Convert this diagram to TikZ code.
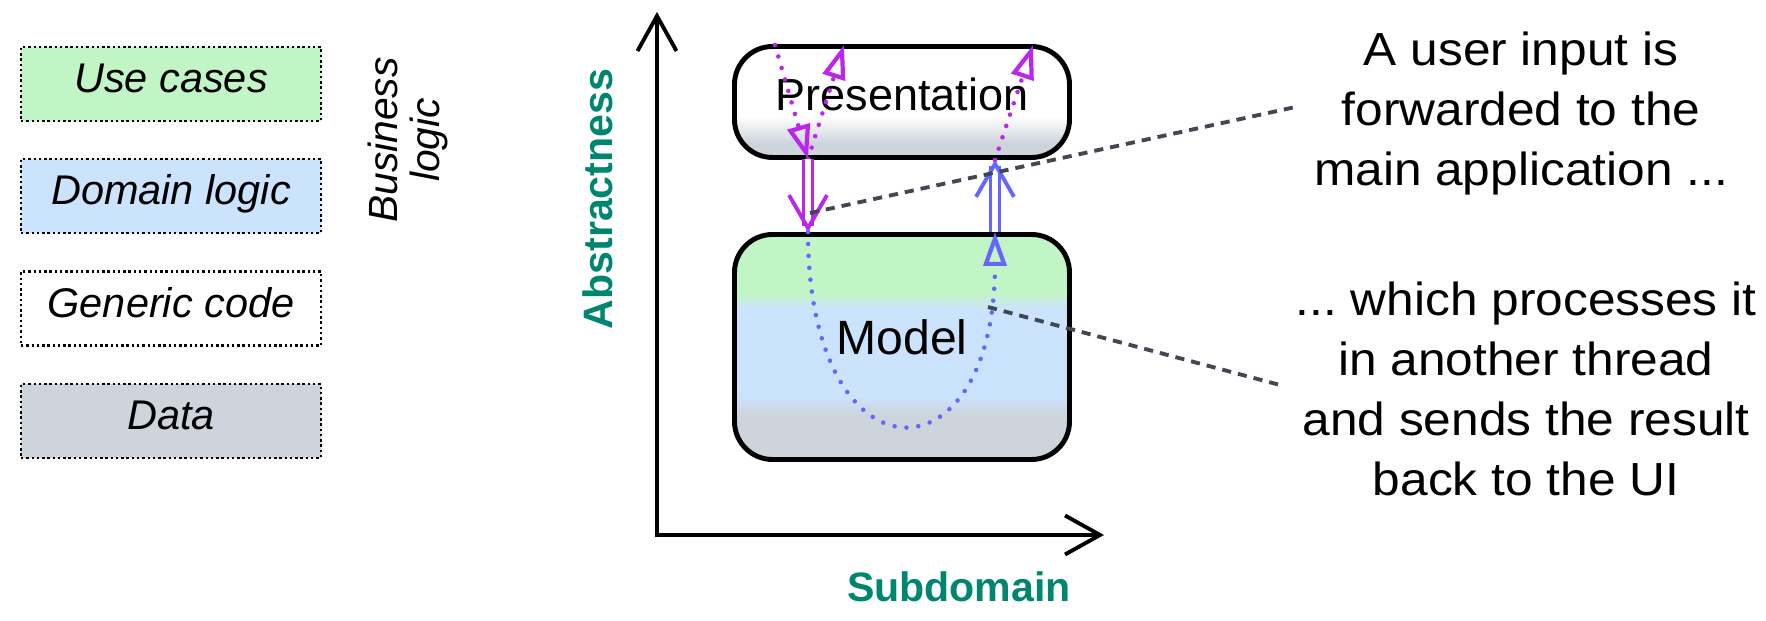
\documentclass[tikz,border=0pt]{standalone}
\usepackage{fontspec}
\setmainfont{Liberation Sans}
\newfontfamily\notefont[FakeStretch=1.07]{Liberation Sans}
\usetikzlibrary{arrows.meta}

\definecolor{casecol}{RGB}{194,245,197}
\definecolor{logiccol}{RGB}{204,227,253}
\definecolor{datacol}{RGB}{205,212,220}
\definecolor{axiscol}{RGB}{0,133,111}
\definecolor{inputcol}{RGB}{187,38,238}
\definecolor{threadcol}{RGB}{102,102,255}
\definecolor{notecol}{RGB}{64,72,82}

\pgfdeclareverticalshading{presfill}{100bp}{color(0bp)=(datacol); color(31.5bp)=(datacol); color(43.5bp)=(white); color(100bp)=(white)}
\pgfdeclareverticalshading{modelfill}{100bp}{color(0bp)=(datacol); color(35bp)=(datacol); color(39bp)=(logiccol); color(58.5bp)=(logiccol); color(62bp)=(casecol); color(100bp)=(casecol)}

\tikzset{
	legendbox/.style={draw, line width=0.7pt, dash pattern=on 0.7pt off 0.8pt, minimum width=3.0cm, minimum height=0.74cm, inner sep=0pt, text height=0.3cm, text depth=0.12cm, font=\fontsize{11.8}{14}\selectfont\itshape},
	layerbox/.style={draw, line width=1.4pt, rounded corners=0.38cm, minimum width=3.35cm, inner sep=0pt, shade},
	axislabel/.style={text=axiscol, font=\fontsize{11.7}{13}\selectfont\bfseries},
	axisline/.style={line width=1.1pt, {Straight Barb[length=0.35cm,width=0.39cm]}-{Straight Barb[length=0.35cm,width=0.39cm]}},
	flow/.style={line width=1.3pt, line cap=round, dash pattern=on 0pt off 3.4pt, -{Triangle[open,length=0.34cm,width=0.23cm,line width=1.2pt]}},
	hop/.style={double, double distance=1.7pt, line width=0.85pt, -{Straight Barb[length=0.33cm,width=0.38cm,line width=1.1pt]}},
	callout/.style={notecol, line width=1.1pt, dash pattern=on 2.6pt off 2pt},
	note/.style={align=center, inner sep=0pt, font=\notefont\fontsize{13.2}{17.07}\selectfont\frenchspacing}
}

\begin{document}
\begin{tikzpicture}
	\useasboundingbox (0,0) rectangle (17.66,6.21);
	% Legend:
	\node[legendbox, fill=casecol] (cases) at (1.71,5.37) {Use cases};
	\node[legendbox, fill=logiccol] (logic) at (1.71,4.25) {Domain logic};
	\node[legendbox] (generic) at (1.71,3.125) {Generic code};
	\node[legendbox, fill=datacol] (data) at (1.71,2.00) {Data};
	\node[rotate=90, align=center, font=\fontsize{11.6}{12}\selectfont\itshape] (business) at (4.08,4.81) {Business\\logic};
	% Axes:
	\coordinate (orig) at (6.57,0.86);
	\coordinate (yEnd) at (6.57,6.09);
	\coordinate (xEnd) at (11.04,0.86);
	\draw[axisline] (yEnd) -- (orig) -- (xEnd);
	\node[axislabel, rotate=90] (abstr) at (5.98,4.22) {Abstractness};
	\node[axislabel] (subdom) at (9.59,0.34) {Subdomain};
	% Layers:
	\node[layerbox, minimum height=1.11cm, shading=presfill, text depth=0.16cm, font=\fontsize{12.8}{15}\selectfont] (pres) at (9.02,5.19) {Presentation};
	\node[layerbox, minimum height=2.25cm, shading=modelfill, text depth=0.2cm, font=\fontsize{13.7}{16}\selectfont] (model) at (9.02,2.74) {Model};
	% Flow points:
	\coordinate (uiIn) at (7.75,5.76);
	\coordinate (uiDown) at (8.08,4.62);
	\coordinate (uiBack) at (8.44,5.76);
	\coordinate (mIn) at (8.08,3.89);
	\coordinate (mOut) at (9.95,3.89);
	\coordinate (uiUp) at (9.95,4.61);
	\coordinate (uiOut) at (10.33,5.76);
	\draw[flow, inputcol] (uiIn) -- (uiDown);
	\draw[flow, inputcol] (uiDown) -- (uiBack);
	\draw[hop, inputcol] (uiDown) -- (mIn);
	\draw[flow, threadcol] (mIn) .. controls (8.08,1.34) and (9.95,1.34) .. (mOut);
	\draw[hop, threadcol] (mOut) -- (uiUp);
	\draw[flow, inputcol] (uiUp) -- (uiOut);
	% Notes:
	\node[note] (noteA) at (15.21,5.07) {A user input is\\forwarded to the\\main application ...};
	\node[note] (noteB) at (15.26,2.32) {... which processes it\\in another thread\\and sends the result\\back to the UI};
	\coordinate (cIn) at (8.10,4.08);
	\coordinate (cOut) at (9.88,3.14);
	\draw[callout, shorten >=0.2cm] (cIn) -- (noteA.177);
	\draw[callout, shorten >=0.155cm] (cOut) -- (noteB.west);
\end{tikzpicture}
\end{document}
